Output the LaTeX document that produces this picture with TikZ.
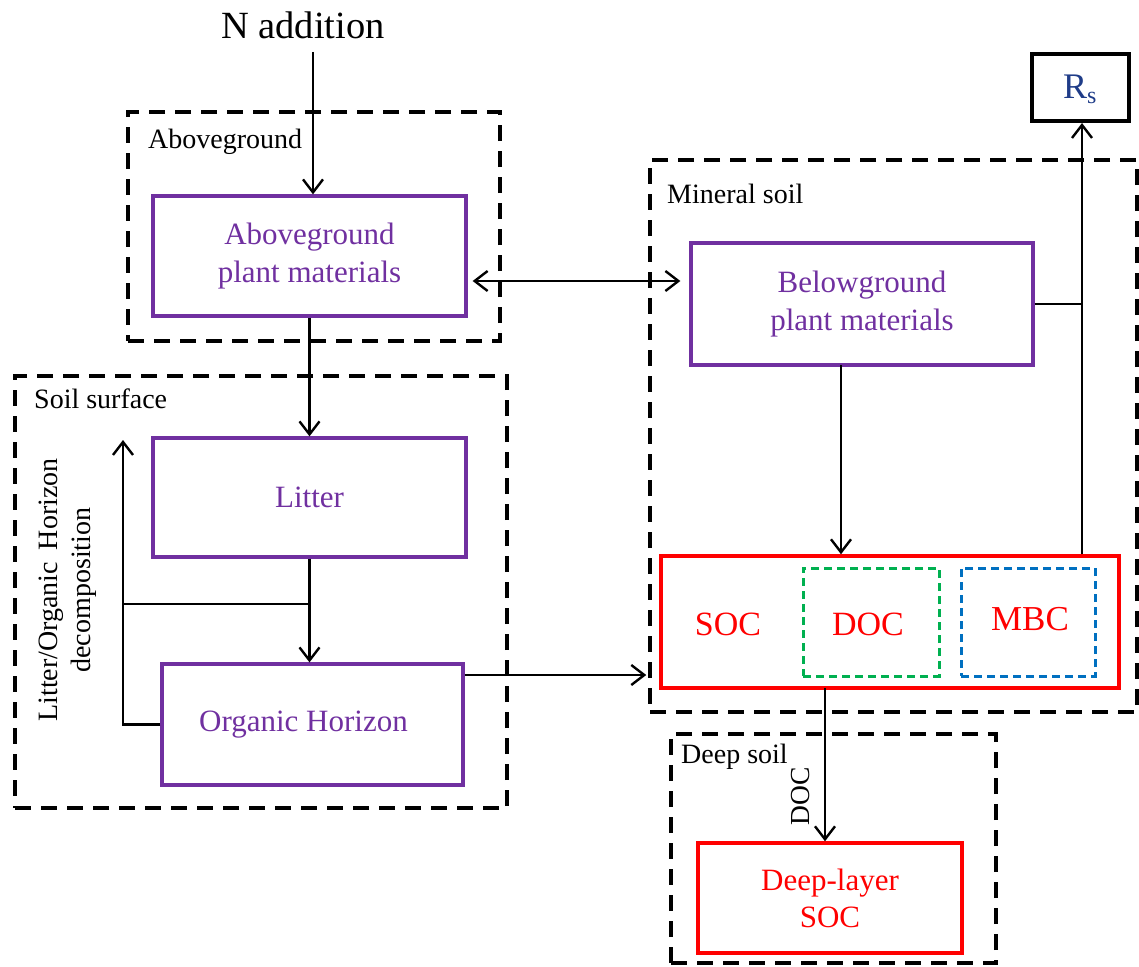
\documentclass[tikz,border=0pt]{standalone}
\usepackage{fontspec}
\setmainfont{Liberation Serif}
\usetikzlibrary{arrows.meta}
\definecolor{pur}{HTML}{7030A0}
\definecolor{rd}{HTML}{FF0000}
\definecolor{gr}{HTML}{00B050}
\definecolor{bl}{HTML}{0070C0}
\definecolor{nv}{HTML}{1F3C88}
\begin{document}
\begin{tikzpicture}[x=1pt,y=-1pt,
  zone/.style={draw=black,line width=3.6pt,dash pattern=on 16pt off 10pt,rectangle,inner sep=0pt},
  pbox/.style={draw=pur,line width=3.3pt,rectangle,inner sep=0pt,text=pur,align=center,font=\fontsize{31}{38}\selectfont},
  rbox/.style={draw=rd,line width=3.5pt,rectangle,inner sep=0pt,text=rd,align=center,font=\fontsize{31}{37}\selectfont},
  subzone/.style={line width=3pt,dash pattern=on 8pt off 5pt,rectangle,inner sep=0pt},
  zlabel/.style={anchor=base west,inner sep=0pt,font=\fontsize{28}{33}\selectfont},
  arr/.style={line width=2.2pt,-{Straight Barb[length=13pt,width=20pt,line width=2.4pt]}},
  darr/.style={line width=2.2pt,{Straight Barb[length=13pt,width=20pt,line width=2.4pt]}-{Straight Barb[length=13pt,width=20pt,line width=2.4pt]}},
  ln/.style={line width=2.2pt}]
\useasboundingbox (0,0) rectangle (1139,966);

% zones
\node[zone,minimum width=372,minimum height=229] (zabv) at (314,226.5) {};
\node[zone,minimum width=492,minimum height=432] (zsurf) at (261,592) {};
\node[zone,minimum width=487,minimum height=552] (zmin) at (893.5,436) {};
\node[zone,minimum width=325,minimum height=229] (zdeep) at (833.5,848.5) {};

\node[zlabel] (labv) at (148,148) {Aboveground};
\node[zlabel] (lsurf) at (34,408) {Soil surface};
\node[zlabel] (lmin) at (667,203) {Mineral soil};
\node[zlabel] (ldeep) at (681,763) {Deep soil};

% title
\node[inner sep=0pt,anchor=base,font=\fontsize{38.5}{44}\selectfont] (nadd) at (303,38) {N addition};

% boxes
\node[pbox,minimum width=313,minimum height=120] (abv) at (309.5,256) {Aboveground\\plant materials};
\node[pbox,minimum width=313,minimum height=119] (litter) at (309.5,497.5) {Litter};
\node[pbox,minimum width=301,minimum height=121] (org) at (312.5,724.5) {\hspace*{-18pt}Organic Horizon};
\node[pbox,minimum width=342,minimum height=122] (below) at (862,304) {Belowground\\plant materials};

\node[rbox,minimum width=458,minimum height=132] (soc) at (890,622) {};
\node[subzone,draw=gr,minimum width=136,minimum height=108] (docb) at (871,622) {};
\node[subzone,draw=bl,minimum width=134,minimum height=108] (mbcb) at (1028,622) {};
\node[text=rd,font=\fontsize{34}{40}\selectfont,inner sep=0pt] (soct) at (728,624) {SOC};
\node[text=rd,font=\fontsize{34}{40}\selectfont,inner sep=0pt] (doct) at (868,624) {DOC};
\node[text=rd,font=\fontsize{35}{40}\selectfont,inner sep=0pt] (mbct) at (1030,619) {MBC};

\node[rbox,minimum width=264,minimum height=110] (deep) at (830,898) {Deep-layer\\SOC};

\node[draw=black,line width=3.6pt,rectangle,inner sep=0pt,minimum width=97,minimum height=67] (rs) at (1080.5,87.5) {};
\node[anchor=base west,inner sep=0pt,text=nv,font=\fontsize{36}{40}\selectfont] (rst) at (1063,98) {R\raisebox{-5pt}{\fontsize{24}{24}\selectfont s}};

% connectors
\coordinate (nstart) at (313,52);
\draw[arr] (nstart) -- (nstart |- abv.north);
\draw[darr,shorten <=5pt,shorten >=9pt] (abv.east |- 0,281) -- (below.west |- 0,281);
\draw[arr] (abv.south) -- (litter.north);
\draw[arr] (litter.south) -- (litter.south |- org.north);
\coordinate (dec) at (123,440);
\draw[arr] (org.west) -| (dec);
\draw[ln] (litter.south |- 0,604) -- (dec |- 0,604);
\node[rotate=90,align=center,inner sep=0pt,font=\fontsize{28}{33}\selectfont] (dect) at (68,590) {Litter/Organic\, Horizon\\decomposition};
\draw[arr,shorten >=13pt] (org.east |- 0,675) -- (soc.west |- 0,675);
\coordinate (bdown) at (841,365);
\draw[arr] (bdown) -- (bdown |- soc.north);
\coordinate (sdown) at (825,688);
\draw[arr] (sdown) -- (sdown |- deep.north);
\node[rotate=90,inner sep=0pt,font=\fontsize{27.5}{32}\selectfont] (docl) at (801,796) {DOC};
\coordinate (rsx) at (1082,123);
\draw[arr] (rsx |- soc.north) -- (rsx);
\draw[ln] (below.east) -- (below.east -| rsx);
\end{tikzpicture}
\end{document}
